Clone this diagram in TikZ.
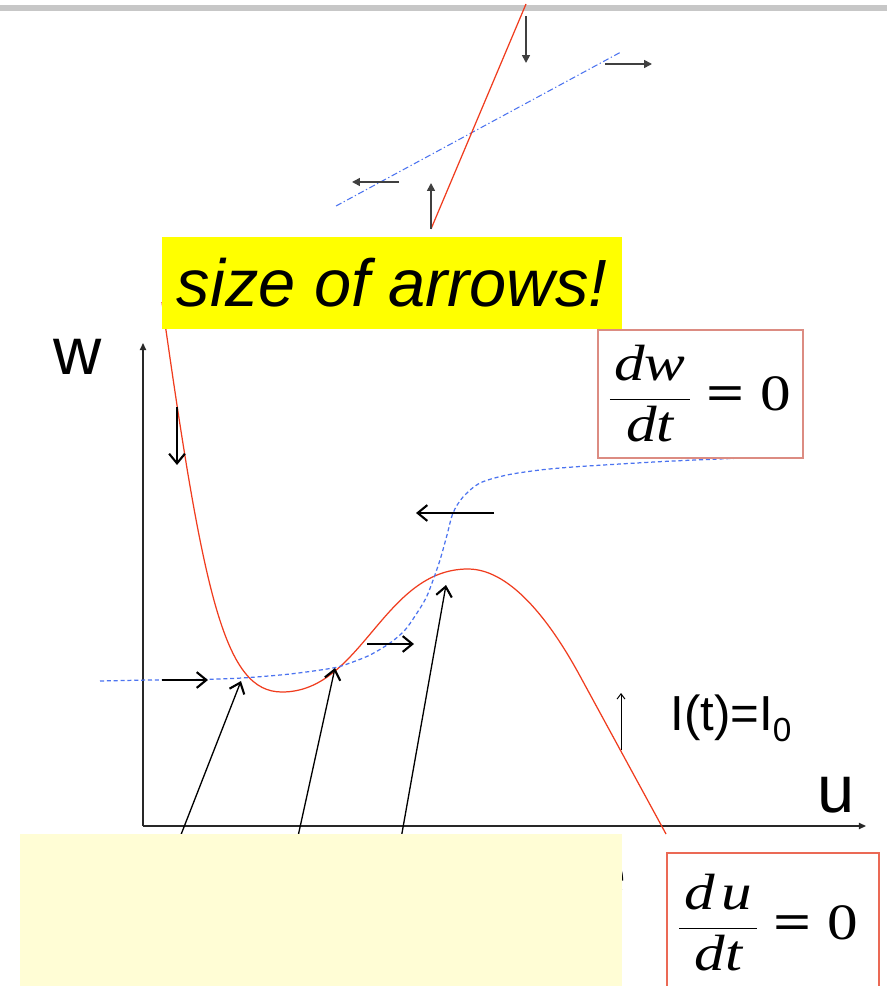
\documentclass[tikz,border=0pt]{standalone}
\usepackage{fontspec}
\setmainfont{Liberation Sans}
\newfontfamily\eqf{Liberation Serif}
\usepackage{graphicx}
\usetikzlibrary{arrows.meta}
\definecolor{nullred}{RGB}{240,60,30}
\definecolor{nullblue}{RGB}{75,115,240}
\definecolor{hilite}{RGB}{255,255,0}
\definecolor{paleyellow}{RGB}{255,253,213}
\definecolor{boxredA}{RGB}{220,140,130}
\definecolor{boxredB}{RGB}{235,105,85}
\definecolor{axisgray}{RGB}{40,40,40}
% #1 numerator, #2 denominator, #3 kern before =, #4 kern after =
\newcommand\nulleq[4]{\scalebox{1.2}[1]{$\displaystyle\frac{\hbox{\eqf\itshape #1\rule[-4pt]{0pt}{4pt}}}{\hbox{\eqf\itshape\rule{0pt}{23pt}#2}}$\kern#3{\eqf\bfseries\scalebox{1.1}[1]{=}}\kern#4{\eqf 0}}}
\tikzset{
  redcurve/.style={draw=nullred, line width=0.7pt},
  bluedash/.style={draw=nullblue, line width=0.7pt, dash pattern=on 2.3pt off 1.6pt},
  bluedashdot/.style={draw=nullblue, line width=0.6pt, dash pattern=on 3.5pt off 1.5pt on 0.7pt off 1.5pt},
  toparrow/.style={draw=black!75, line width=0.9pt, -{Triangle[length=4.5pt,width=4.5pt]}},
  barbarrow/.style={draw=black, line width=0.75pt, -{Straight Barb[length=5.5pt,width=9pt,line width=1.2pt]}},
  smallbarb/.style={draw=black, line width=0.55pt, -{Straight Barb[length=3pt,width=4.5pt]}},
  axisline/.style={draw=axisgray, line width=0.8pt, -{Triangle[length=4pt,width=3.5pt]}},
  bigsans/.style={font=\fontsize{38}{44}\selectfont, inner sep=0pt},
  eqnode/.style={anchor=base west, inner sep=0pt, font=\fontsize{29}{34}\selectfont},
}
\begin{document}
\begin{tikzpicture}[x=0.02cm,y=-0.02cm]
\useasboundingbox (0,0) rectangle (887,986);
\fill[white] (0,0) rectangle (887,986);
% top grey bar
\fill[black!22] (0,5.5) rectangle (887,11.5);

% ---- top inset: linearised nullclines ----
\coordinate (rlA) at (431,229);
\coordinate (rlB) at (526,4);
\coordinate (blA) at (336,206);
\coordinate (blB) at (621,52);
\draw[bluedashdot] (blA) -- (blB);
\draw[redcurve] (rlA) -- (rlB);
\coordinate (dA) at (526,16);  \coordinate (dB) at (526,63);
\coordinate (rA) at (605,64);  \coordinate (rB) at (652,64);
\coordinate (lA) at (399,182); \coordinate (lB) at (352,182);
\coordinate (uA) at (431,229); \coordinate (uB) at (431,183);
\draw[toparrow] (dA) -- (dB);
\draw[toparrow] (rA) -- (rB);
\draw[toparrow] (lA) -- (lB);
\draw[toparrow] (uA) -- (uB);

% ---- axes ----
\coordinate (O) at (143,826);
\coordinate (yend) at (143,343);
\coordinate (xend) at (866,826);
\draw[axisline] (O) -- (yend);
\draw[axisline] (O) -- (xend);
\node[bigsans] (wlab) at (78,357) {w};
\node[bigsans] (ulab) at (836,795) {u};

% ---- nullclines ----
\coordinate (rc0) at (162,302);
\coordinate (rcmin) at (282,692);
\coordinate (rcmax) at (468,569);
\coordinate (rcb) at (580,676);
\coordinate (rcend) at (666,834);
\draw[redcurve] (rc0) .. controls (204,600) and (225,692) .. (rcmin)
  .. controls (362,692) and (383,569) .. (rcmax)
  .. controls (513,569) and (554,628) .. (rcb) -- (rcend);
\draw[bluedash] plot[smooth, tension=0.5] coordinates {
 (100,681) (150,680) (200,679.5) (242,678) (290,674) (333,668) (350,663)
 (370,655) (390,643) (405,630) (417,613) (426,598) (432,583) (440,560)
 (447,535) (453,513) (463,497) (480,483) (507,475) (540,470) (573,467)
 (620,464) (673,461) (743,458)};

% ---- flow arrows ----
\coordinate (h1s) at (162,680); \coordinate (h1e) at (208,680);
\coordinate (h2s) at (367,644); \coordinate (h2e) at (414,644);
\coordinate (h3s) at (494,513); \coordinate (h3e) at (416,513);
\coordinate (vds) at (177,407); \coordinate (vde) at (177,465);
\coordinate (ius) at (621,750); \coordinate (iue) at (621,693);
\draw[barbarrow] (h1s) -- (h1e);
\draw[barbarrow] (h2s) -- (h2e);
\draw[barbarrow] (h3s) -- (h3e);
\draw[barbarrow] (vds) -- (vde);
\draw[smallbarb] (ius) -- (iue);

% ---- pointers to fixed points ----
\coordinate (a1s) at (175,850); \coordinate (a1e) at (241,681);
\coordinate (a2s) at (295,850); \coordinate (a2e) at (335,668);
\coordinate (a3s) at (399,850); \coordinate (a3e) at (446,585);
\draw[barbarrow] (a1s) -- (a1e);
\draw[barbarrow] (a2s) -- (a2e);
\draw[barbarrow] (a3s) -- (a3e);

% ---- labels ----
\node[anchor=base west, inner sep=0pt, font=\fontsize{28}{32}\selectfont] (ilab) at (670,730)
  {I(t)=I\raisebox{-6.8pt}{\fontsize{19}{22}\selectfont 0}};

\draw[boxredA, line width=0.8pt] (598,330) rectangle (803,458);
\node[eqnode] (dweq) at (607,410) {\nulleq{\kern2pt dw\kern2pt}{dt}{7pt}{7pt}};

\draw[boxredB, line width=0.9pt] (667,995) |- (879,853) -- (879,995);
\node[eqnode] (dueq) at (676.5,939) {\nulleq{\kern2.5pt d\kern3pt u\kern2.5pt}{dt}{6.5pt}{7.5pt}};

% hidden text under the pale box
\node[bigsans, anchor=base east] (hid) at (627,897) {e};
\fill[paleyellow] (20,834) rectangle (622,990);

% highlighted remark
\node[fill=hilite, minimum width=9.2cm, minimum height=1.84cm, inner sep=0pt,
      font=\fontsize{38}{44}\selectfont\itshape] (warn) at (392,283) {size of arrows!};
\end{tikzpicture}
\end{document}
